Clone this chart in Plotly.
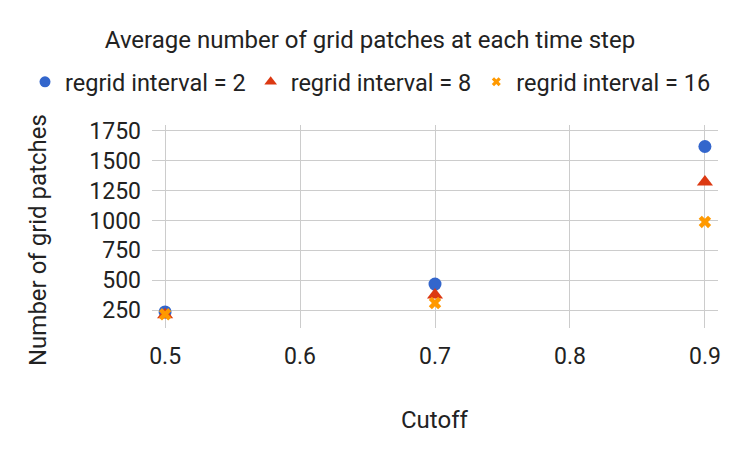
import plotly.graph_objects as go

cutoffs = [0.5, 0.7, 0.9]
regrid_2 = [235, 468, 1620]
regrid_8 = [210, 376, 1322]
regrid_16 = [215, 309, 988]
series_names = ["regrid interval = 2", "regrid interval = 8", "regrid interval = 16"]
x_ticks = [0.5, 0.6, 0.7, 0.8, 0.9]
y_ticks = [250, 500, 750, 1000, 1250, 1500, 1750]

colors = ["#3366CC", "#DC3912", "#FF9900"]
symbols = ["circle", "triangle-up", "x"]
plot_sizes = [13, 14, 11]
legend_sizes = [11, 11, 8]

L, R, T, B = 152, 22, 125, 129
W, H = 740, 457
pw, ph = W - L - R, H - T - B

fig = go.Figure()
for vals, name, c, s, ps in zip([regrid_2, regrid_8, regrid_16], series_names, colors, symbols, plot_sizes):
    fig.add_trace(go.Scatter(x=cutoffs, y=vals, mode="markers", name=name, showlegend=False,
                             legendgroup=name,
                             marker=dict(symbol=s, size=ps, color=c, line=dict(width=0))))
for name, c, s, ls in zip(series_names, colors, symbols, legend_sizes):
    fig.add_trace(go.Scatter(x=[None], y=[None], mode="markers", name=name, legendgroup=name,
                             marker=dict(symbol=s, size=ls, color=c, line=dict(width=0))))

fig.update_layout(
    width=W, height=H,
    paper_bgcolor="white", plot_bgcolor="white",
    font=dict(family="Roboto", color="#222222", size=24),
    title=dict(text="Average number of grid patches at each time step",
               x=0.5, xanchor="center", y=1 - 40 / H, yanchor="middle",
               font=dict(size=24, color="#222222")),
    margin=dict(l=L, r=R, t=T, b=B, autoexpand=False),
    showlegend=True,
    legend=dict(orientation="h", x=(25 - L) / pw, xanchor="left", y=(H - B - 82) / ph, yanchor="middle",
                font=dict(size=23.5, color="#222222"), itemwidth=30, tracegroupgap=0),
    xaxis=dict(range=[0.4903, 0.9097], tickvals=x_ticks, ticktext=[str(v) for v in x_ticks],
               showgrid=True, gridcolor="#CCCCCC", gridwidth=1, zeroline=False,
               showline=False, ticks="", tickfont=dict(size=23), automargin=False,
               ticklabelstandoff=12),
    yaxis=dict(range=[100, 1800], tickvals=y_ticks,
               showgrid=True, gridcolor="#CCCCCC", gridwidth=1, zeroline=False,
               showline=False, ticks="", tickfont=dict(size=23), automargin=False,
               ticklabelstandoff=10),
    annotations=[
        dict(text="Cutoff", xref="paper", yref="paper", x=0.5, y=(H - B - 420) / ph,
             xanchor="center", yanchor="middle", showarrow=False, font=dict(size=24)),
        dict(text="Number of grid patches", xref="paper", yref="paper",
             x=(38 - L) / pw, y=(H - B - 240) / ph, textangle=-90,
             xanchor="center", yanchor="middle", showarrow=False, font=dict(size=24)),
    ],
)

fig.write_html("out.html", config={"displayModeBar": False},
               post_script="document.body.style.margin='0';")
